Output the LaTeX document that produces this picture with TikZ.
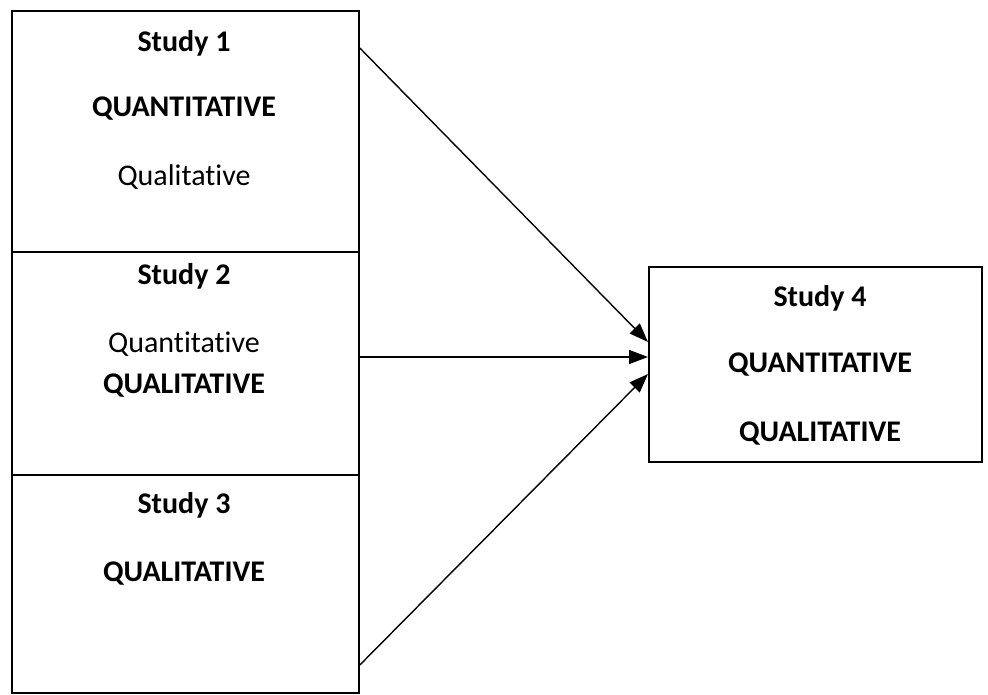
\documentclass[tikz,border=0pt]{standalone}
\usepackage{fontspec}
\setmainfont{Carlito}[Ligatures=NoCommon]
\usetikzlibrary{arrows.meta,calc}
\begin{document}
\begin{tikzpicture}[x=1pt,y=-1pt,
  box/.style={draw,line width=1.8pt,rectangle,inner sep=0pt,anchor=north west},
  lbl/.style={inner sep=0pt,anchor=base,font=\fontsize{30}{36}\selectfont},
  blbl/.style={lbl,font=\fontsize{30}{36}\selectfont\bfseries},
  link/.style={line width=1.4pt,-{Triangle[length=19pt,width=14pt]}}]
\useasboundingbox (0,0) rectangle (988,695);
% left column of studies
\node[box,minimum width=347pt,minimum height=241pt] (b1) at (11,10) {};
\node[box,minimum width=347pt,minimum height=223pt] (b2) at (11,251) {};
\node[box,minimum width=347pt,minimum height=218pt] (b3) at (11,474) {};
% combined study
\node[box,minimum width=333pt,minimum height=195pt] (b4) at (648,266) {};
% box texts
\node[blbl] (s1) at (184,52) {Study 1};
\node[blbl] (s1a) at (184,117) {QUANTITATIVE};
\node[lbl] (s1b) at (184,186) {Qualitative};
\node[blbl] (s2) at (184,284) {Study 2};
\node[lbl] (s2a) at (184,352) {Quantitative};
\node[blbl] (s2b) at (184,393) {QUALITATIVE};
\node[blbl] (s3) at (184,513) {Study 3};
\node[blbl] (s3a) at (184,581) {QUALITATIVE};
\node[blbl] (s4) at (820,306) {Study 4};
\node[blbl] (s4a) at (820,372) {QUANTITATIVE};
\node[blbl] (s4b) at (820,441) {QUALITATIVE};
% connectors
\coordinate (o1) at ($(b1.north east)+(0,38)$);
\coordinate (o2) at ($(b2.north east)+(0,106)$);
\coordinate (o3) at ($(b3.north east)+(0,191)$);
\coordinate (t1) at ($(b4.north west)+(0,76)$);
\coordinate (t2) at ($(b4.north west)+(0,91)$);
\coordinate (t3) at ($(b4.north west)+(0,108)$);
\draw[link] (o1) -- (t1);
\draw[link] (o2) -- (t2);
\draw[link] (o3) -- (t3);
\end{tikzpicture}
\end{document}
